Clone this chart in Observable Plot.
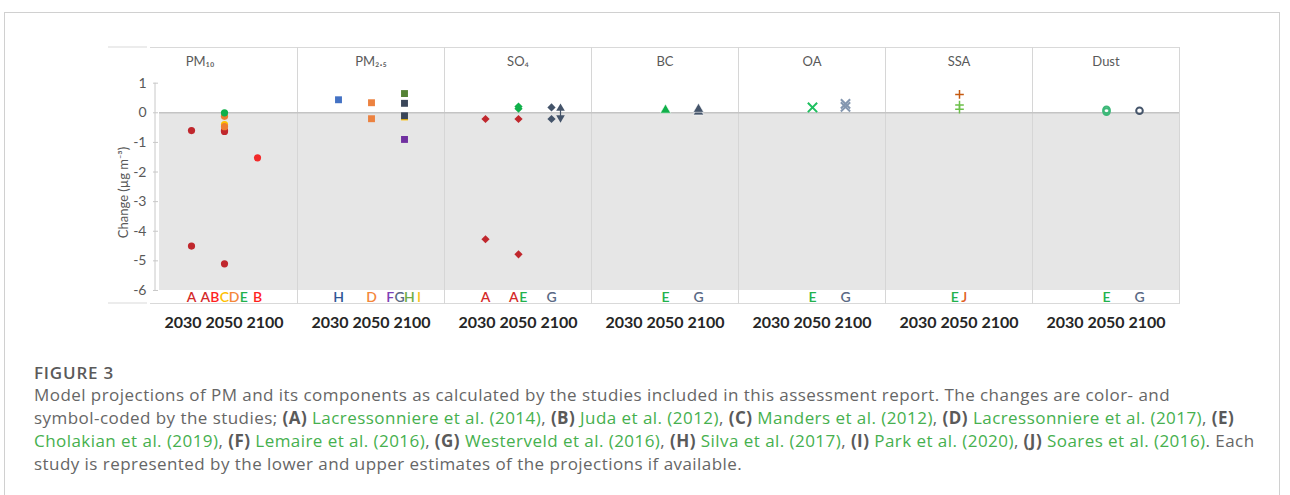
<!DOCTYPE html>
<html><head><meta charset="utf-8">
<script src="https://cdn.jsdelivr.net/npm/d3@7"></script>
<script src="https://cdn.jsdelivr.net/npm/@observablehq/plot@0.6"></script>
<style>
html,body{margin:0;padding:0;background:#fff;}
#box{position:absolute;left:4px;top:12px;width:1276px;height:520px;border:1px solid #d0d0d0;box-sizing:border-box;}
#chart{position:absolute;left:0;top:0;}
#cap{position:absolute;left:34px;top:363px;font-family:"Open Sans",sans-serif;color:#666;white-space:nowrap;}
#cap .fig{font-size:17px;font-weight:600;line-height:20px;letter-spacing:0.8px;color:#5a5a5a;}
#cap .l{font-size:17px;line-height:23px;letter-spacing:0.45px;}
#cap b{font-weight:700;color:#5a5a5a;}
#cap a{color:#46b04e;text-decoration:none;}
</style></head><body>
<div id="box"></div>
<div id="chart"></div>
<div id="cap">
<div class="fig">FIGURE 3</div>
<div class="l">Model projections of PM and its components as calculated by the studies included in this assessment report. The changes are color- and</div>
<div class="l">symbol-coded by the studies; <b>(A)</b> <a>Lacressonniere et al. (2014)</a>, <b>(B)</b> <a>Juda et al. (2012)</a>, <b>(C)</b> <a>Manders et al. (2012)</a>, <b>(D)</b> <a>Lacressonniere et al. (2017)</a>, <b>(E)</b></div>
<div class="l"><a>Cholakian et al. (2019)</a>, <b>(F)</b> <a>Lemaire et al. (2016)</a>, <b>(G)</b> <a>Westerveld et al. (2016)</a>, <b>(H)</b> <a>Silva et al. (2017)</a>, <b>(I)</b> <a>Park et al. (2020)</a>, <b>(J)</b> <a>Soares et al. (2016)</a>. Each</div>
<div class="l">study is represented by the lower and upper estimates of the projections if available.</div>
</div>
<script>
// ---------------- data ----------------
const panels = ["PM10", "PM2.5", "SO4", "BC", "OA", "SSA", "Dust"];
const panelTitles = ["PM₁₀", "PM₂.₅", "SO₄", "BC", "OA", "SSA", "Dust"];
const years = ["2030", "2050", "2100"];
const yTicks = [1, 0, -1, -2, -3, -4, -5, -6];
const yDomain = [-6.44, 2.205];
const shadedRange = [-6, 0];
const yLabel = "Change (µg m⁻³)";

// [study, year, change]
const pm10 = [["A","2030",-0.6],["A","2030",-4.5],["B","2050",-0.6],["A","2050",-0.63],["C","2050",-0.4],["D","2050",-0.47],["D","2050",-0.12],["E","2050",0.0],["A","2050",-5.1],["B","2100",-1.52]];
const pm25 = [["H","2030",0.44],["D","2050",0.34],["D","2050",-0.2],["I","2100",-0.14],["G","2100",-0.1],["G","2100",0.32],["H","2100",0.65],["F","2100",-0.9]];
const so4 = [["A","2030",-0.21],["A","2030",-4.27],["A","2050",-0.21],["A","2050",-4.78],["E","2050",0.14],["E","2050",0.21],["G","2100",0.18],["G","2100",-0.21]];
const so4Upper = [["G","2100",0.15]];
const so4Lower = [["G","2100",-0.17]];
const bc = [["E","2050",0.09],["G","2100",0.03],["G","2100",0.12]];
const oa = [["E","2050",0.18],["G","2100",0.2],["G","2100",0.3]];
const ssa = [["J","2050",0.62],["E","2050",0.26],["E","2050",0.12]];
const dust = [["E","2050",0.1],["E","2050",0.04],["G","2100",0.07]];

// [panel, year, studies shown under the points]
const studyLabels = [["PM10","2030","A"],["PM10","2050","ABCDE"],["PM10","2100","B"],
  ["PM2.5","2030","H"],["PM2.5","2050","D"],["PM2.5","2100","FGHI"],
  ["SO4","2030","A"],["SO4","2050","AE"],["SO4","2100","G"],
  ["BC","2050","E"],["BC","2100","G"],["OA","2050","E"],["OA","2100","G"],
  ["SSA","2050","EJ"],["Dust","2050","E"],["Dust","2100","G"]];

// ---------------- styles ----------------
const studyColor = {A:"#C0272D",B:"#F22A2A",C:"#FFC000",D:"#ED7D31",E:"#10B04A",F:"#7030A0",G:"#44546A",H:"#4472C4",I:"#FFC000",J:"#C55A11"};
const colorOverride = {"PM2.5|2100|H":"#548235","PM2.5|2100|G":"#3A4659","PM2.5|2050|D":"#EC8240","SSA|2050|E":"#6CC04A","Dust|2050|E":"#3CB878","OA|2100|G":"#8497B0","OA|2050|E":"#1FC060"};
const letterColor = {A:"#D42A2A",B:"#FF1F1F",C:"#FFC000",D:"#F4873A",E:"#22B14C",F:"#7E3FB5",G:"#5A6985",H:"#2F5597",I:"#F7C325",J:"#E0601F"};
const letterOverride = {"PM2.5|2100|H":"#70AD47"};
const letterStep = 9.6;
const axisShift = 8;
const FONT = "Lato, 'Open Sans', sans-serif";

const rows = (panel, arr) => arr.map(([study, year, value]) => ({panel, study, year, value}));
const colorOf = d => colorOverride[`${d.panel}|${d.year}|${d.study}`] ?? studyColor[d.study];
const letterColorOf = d => letterOverride[`${d.panel}|${d.year}|${d.study}`] ?? letterColor[d.study];

const triDown = {draw(ctx, size) {
  const y = Math.sqrt(size / (Math.sqrt(3) * 3));
  ctx.moveTo(0, y * 2); ctx.lineTo(-Math.sqrt(3) * y, -y); ctx.lineTo(Math.sqrt(3) * y, -y); ctx.closePath();
}};

const bandRows = panels.map(panel => ({panel, y1: shadedRange[0], y2: shadedRange[1]}));
const titleRows = panels.map((panel, i) => ({panel, title: panelTitles[i]}));
const letterRows = studyLabels.flatMap(([panel, year, letters]) =>
  [...letters].map((s, i) => ({panel, year, study: s, offset: (i - (letters.length - 1) / 2) * letterStep})));
const letterMarks = d3.groups(letterRows, d => d.offset).map(([off, arr]) =>
  Plot.text(arr, {fx: "panel", x: "year", text: "study", frameAnchor: "bottom", lineAnchor: "middle", dy: -6, dx: off,
    fill: letterColorOf, fontSize: 14, fontWeight: 600, fontFamily: FONT}));

const common = {fx: "panel", x: "year", y: "value"};
const upRows = rows("SO4", so4Upper), downRows = rows("SO4", so4Lower);
const linkRows = upRows.map((d, i) => ({...d, lo: downRows[i].value}));

const plot = Plot.plot({
  width: 1290, height: 340,
  marginLeft: 147, marginRight: 109, marginTop: 47, marginBottom: 37,
  style: {fontFamily: FONT, background: "transparent", overflow: "visible"},
  fx: {domain: panels, padding: 0, label: null},
  x: {type: "point", domain: years, padding: 1.22, axis: null},
  y: {domain: yDomain, nice: false},
  marks: [
    Plot.rect(bandRows.slice(0, 1), {fx: "panel", y1: "y1", y2: "y2", fill: "#e6e6e6", insetLeft: axisShift + 1}),
    Plot.rect(bandRows.slice(1), {fx: "panel", y1: "y1", y2: "y2", fill: "#e6e6e6"}),
    Plot.frame({anchor: "top", stroke: "#d9d9d9"}),
    Plot.frame({anchor: "bottom", stroke: "#d9d9d9"}),
    Plot.frame({anchor: "right", stroke: "#d6d6d6"}),
    Plot.ruleY(bandRows.slice(0, 1), {fx: "panel", y: "y2", stroke: "#c4c4c4", strokeWidth: 1.5, insetLeft: axisShift + 1}),
    Plot.ruleY(bandRows.slice(1), {fx: "panel", y: "y2", stroke: "#c4c4c4", strokeWidth: 1.5}),
    Plot.axisY({ticks: yTicks, tickSize: 5, tickPadding: 7, dx: axisShift, fontSize: 14, fill: "#595959",
      stroke: "#c8c8c8", label: null, tickFormat: d => String(d), fontFamily: FONT}),
    Plot.axisFx({anchor: "bottom", tickSize: 0, tickPadding: 13, fontSize: 16, fontWeight: "bold",
      fill: "#262626", label: null, tickFormat: () => years.join(" "), fontFamily: FONT}),
    Plot.text([{panel: panels[0], label: yLabel}], {fx: "panel", text: "label", frameAnchor: "left",
      textAnchor: "middle", lineAnchor: "middle", rotate: -90, dx: -27, dy: 17, fontSize: 13, fill: "#595959", fontFamily: FONT}),
    Plot.text(titleRows.slice(0, 1), {fx: "panel", text: "title", frameAnchor: "top", lineAnchor: "middle", dy: 14, dx: -24, fontSize: 13, fill: "#595959", fontFamily: FONT}),
    Plot.text(titleRows.slice(1), {fx: "panel", text: "title", frameAnchor: "top", lineAnchor: "middle", dy: 14, fontSize: 13, fill: "#595959", fontFamily: FONT}),
    // points
    Plot.dot(rows("PM10", pm10), {...common, symbol: "circle", r: 3.6, fill: colorOf}),
    Plot.dot(rows("PM2.5", pm25), {...common, symbol: "square", r: 3.9, fill: colorOf}),
    Plot.dot(rows("SO4", so4), {...common, symbol: "diamond2", r: 3.7, fill: colorOf}),
    Plot.ruleX(linkRows, {fx: "panel", x: "year", y1: "lo", y2: "value", stroke: colorOf, strokeWidth: 1.2, dx: 9}),
    Plot.dot(upRows, {...common, symbol: "triangle", r: 3.2, fill: colorOf, dx: 9}),
    Plot.dot(downRows, {...common, symbol: triDown, r: 3.2, fill: colorOf, dx: 9}),
    Plot.dot(rows("BC", bc), {...common, symbol: "triangle", r: 3.9, fill: colorOf, stroke: "#fff", strokeWidth: 0.6}),
    Plot.dot(rows("OA", oa), {...common, symbol: "times", r: 4.3, stroke: colorOf, strokeWidth: 2}),
    Plot.dot(rows("SSA", ssa), {...common, symbol: "plus", r: 2.9, stroke: colorOf, strokeWidth: 1.5}),
    Plot.dot(rows("Dust", dust), {...common, symbol: "circle", r: 3.3, fill: "none", stroke: colorOf, strokeWidth: 2}),
    ...letterMarks
  ]
});
document.getElementById("chart").append(plot);

// decorative axis line and left extension of the category-axis lines, positioned with Plot's y scale
const ys = plot.scale("y");
const svg = d3.select(plot.tagName.toLowerCase() === "svg" ? plot : plot.querySelector("svg"));
const axX = 147 + axisShift;
svg.append("line").attr("x1", axX).attr("x2", axX).attr("y1", ys.apply(yTicks[0])).attr("y2", ys.apply(yTicks[yTicks.length - 1]))
  .attr("stroke", "#c8c8c8");
for (const v of yDomain) {
  svg.append("line").attr("x1", 108).attr("x2", 147).attr("y1", ys.apply(v)).attr("y2", ys.apply(v)).attr("stroke", "#d9d9d9");
}
</script>
</body></html>
